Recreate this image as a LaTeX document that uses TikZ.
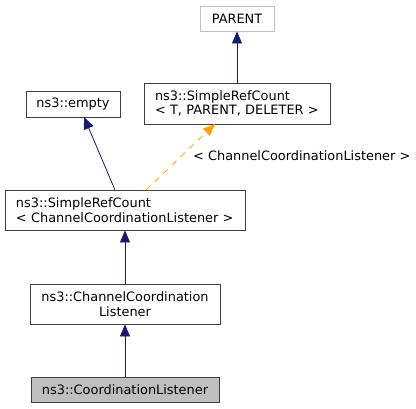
\documentclass[tikz,border=0pt]{standalone}
\usepackage{fontspec}
\setmainfont{DejaVu Sans}
\usetikzlibrary{arrows.meta}
\definecolor{navy}{HTML}{191970}
\definecolor{orng}{HTML}{FFA500}
\definecolor{grayfill}{HTML}{BFBFBF}
\begin{document}
\begin{tikzpicture}[x=1pt,y=-1pt,
  txt/.style={font=\fontsize{12.9}{14.5}\selectfont},
  box/.style={draw=black!75, fill=white, line width=0.9pt, inner sep=0pt, txt},
  inh/.style={draw=navy, line width=0.8pt, -{Triangle[length=12pt,width=10pt,fill=navy]}},
  tmpl/.style={draw=orng, line width=0.8pt, dash pattern=on 6pt off 6pt, -{Triangle[length=12pt,width=10pt,fill=orng]}}]
\useasboundingbox (0,0) rectangle (416,408);
\node[box, draw=black!25, minimum width=74pt, minimum height=25pt] (parent) at (237,18.5) {PARENT};
\node[box, minimum width=186pt, minimum height=41pt, align=left, text width=164pt] (srct) at (237,103.5) {ns3::SimpleRefCount\\< T, PARENT, DELETER >};
\node[box, minimum width=94pt, minimum height=26pt] (empty) at (73,104) {ns3::empty};
\node[box, minimum width=240pt, minimum height=40pt, align=left, text width=218pt] (srcc) at (125,210) {ns3::SimpleRefCount\\< ChannelCoordinationListener >};
\node[box, minimum width=190pt, minimum height=40pt, align=center] (ccl) at (125,304) {ns3::ChannelCoordination\\Listener};
\node[box, fill=grayfill, minimum width=188pt, minimum height=25pt] (cl) at (125,389.5) {ns3::CoordinationListener};
\coordinate (a1) at (115,190);
\coordinate (a2) at (84,117);
\coordinate (b1) at (146,190);
\coordinate (b2) at (215,124);
\draw[inh] (srct.north -| parent) -- (parent.south);
\draw[inh] (a1) -- (a2);
\draw[tmpl] (b1) -- (b2);
\node[anchor=west, inner sep=0pt, txt] (lbl) at (193,156) {< ChannelCoordinationListener >};
\draw[inh] (ccl.north) -- (srcc.south);
\draw[inh] (cl.north) -- (ccl.south);
\end{tikzpicture}
\end{document}
